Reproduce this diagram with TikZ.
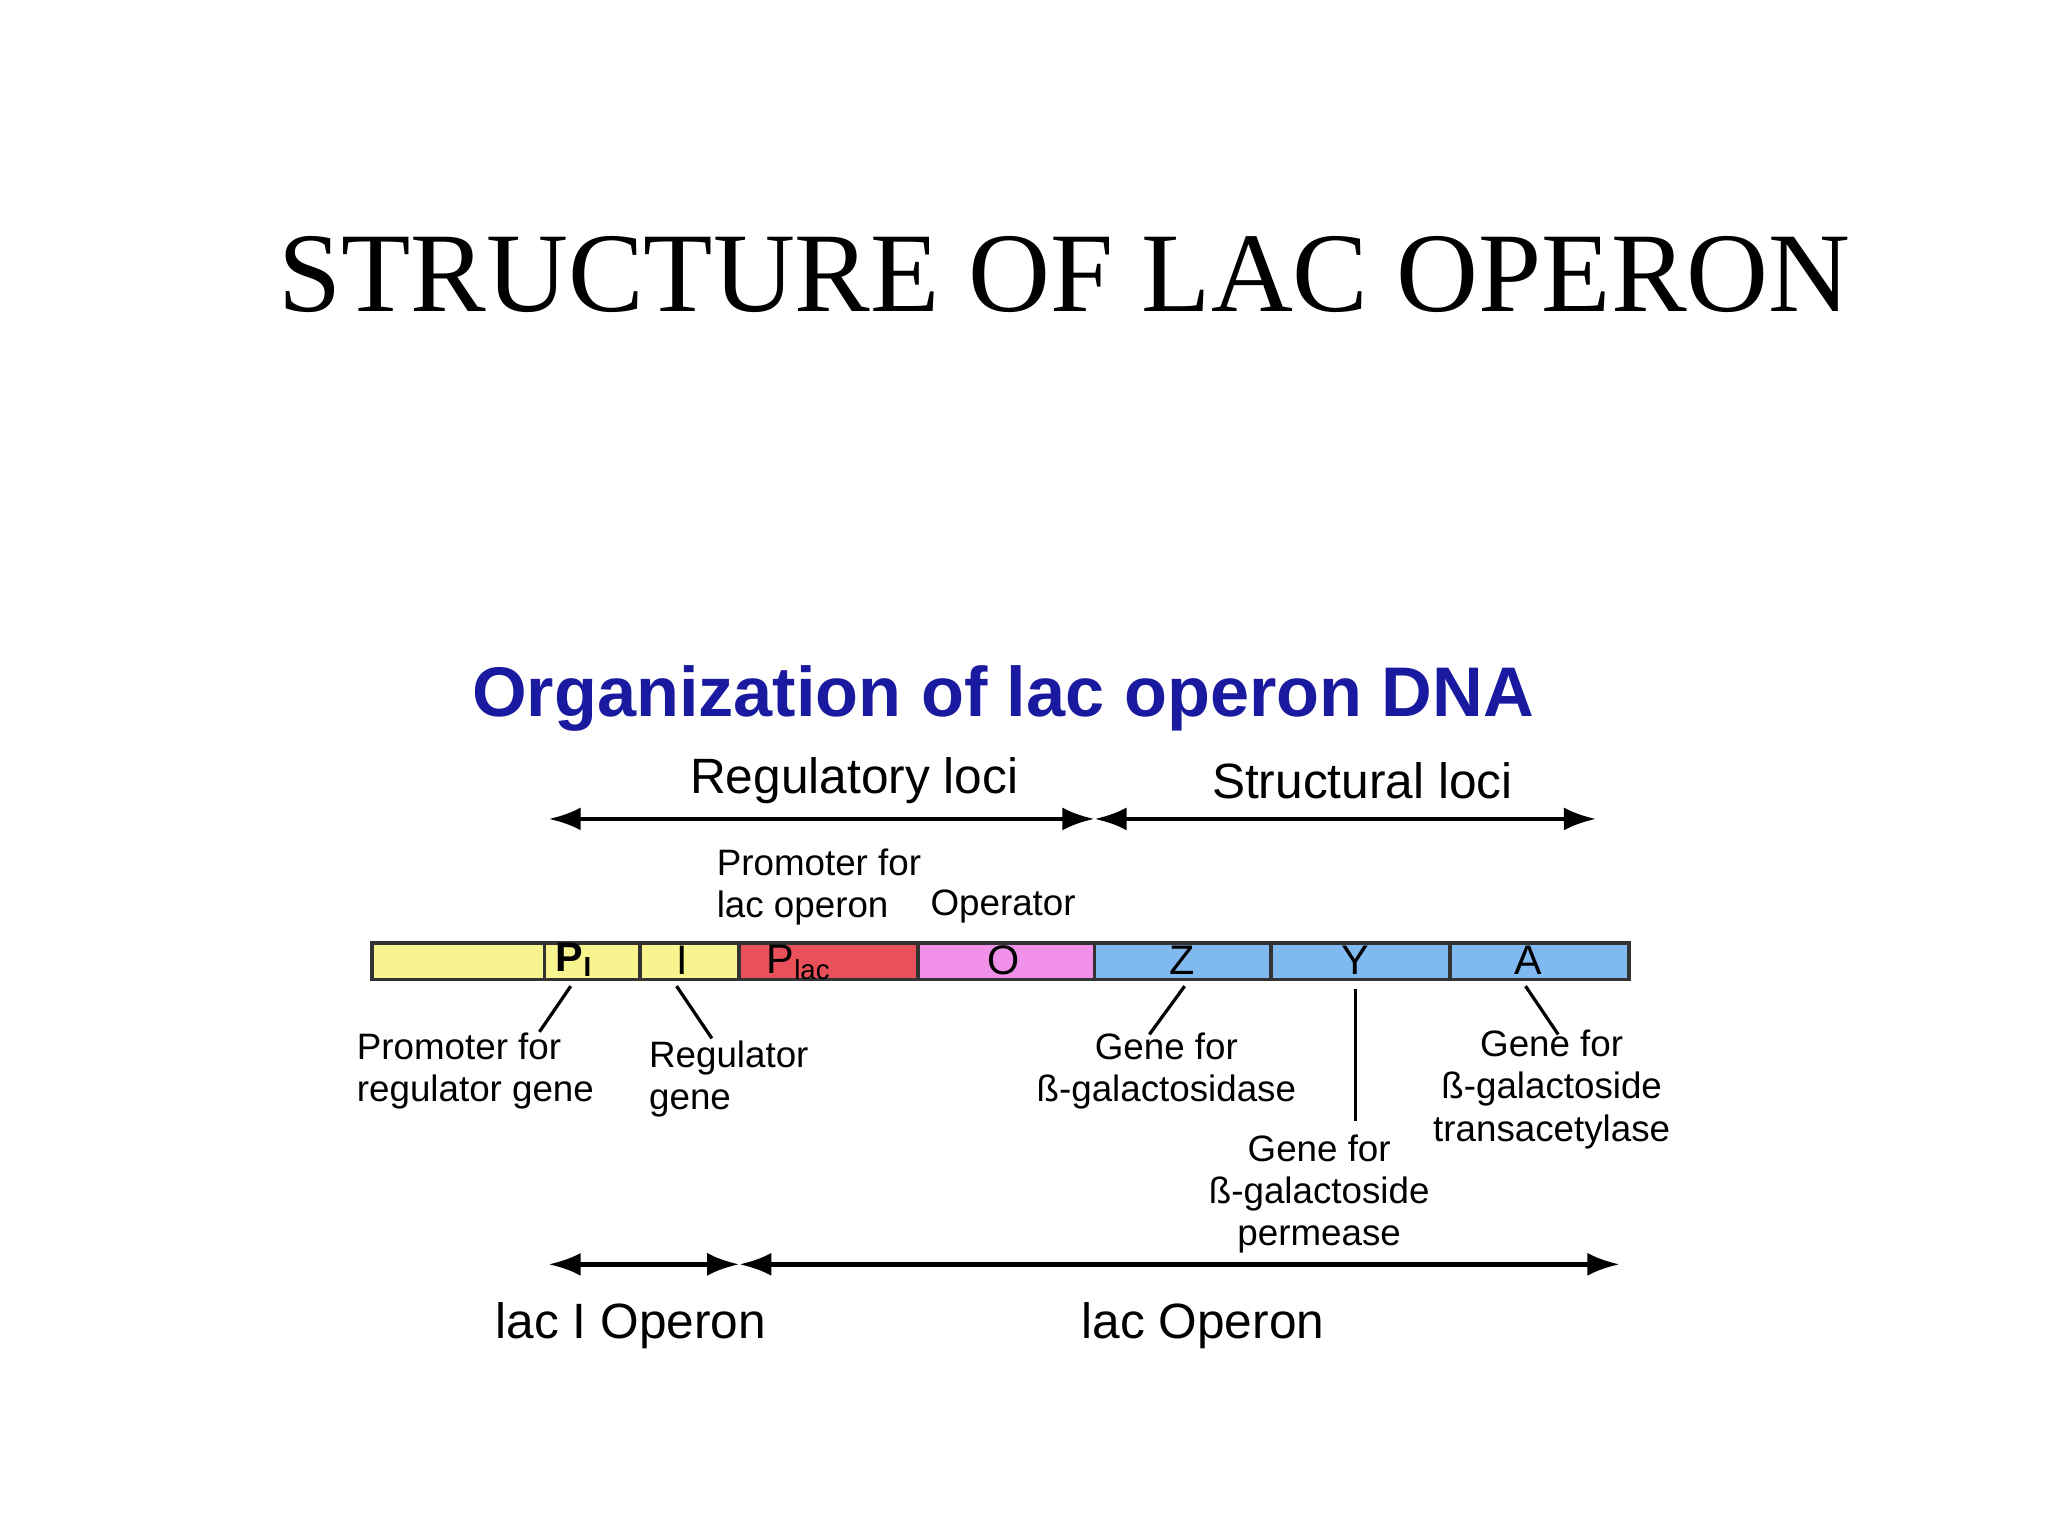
\documentclass[tikz,border=0pt]{standalone}
\usepackage{fontspec}
\setmainfont{Liberation Sans}
\newfontfamily\seriff{Liberation Serif}
\usetikzlibrary{arrows.meta}
\definecolor{ylw}{HTML}{F8F490}
\definecolor{rd}{HTML}{E8505A}
\definecolor{pk}{HTML}{F090E8}
\definecolor{bl}{HTML}{80B8F0}
\definecolor{ttl}{HTML}{1A1AA0}
\begin{document}
\begin{tikzpicture}[x=0.01cm,y=-0.01cm,
 seg/.style={draw=black!80,line width=0.8pt},
 bt/.style={font=\fontsize{9}{9}\selectfont,inner sep=0pt},
 lab/.style={font=\fontsize{8}{9.2}\selectfont,align=left,inner sep=0pt},
 big/.style={font=\fontsize{10.8}{13}\selectfont,inner sep=0pt},
 dbl/.style={line width=1pt,{Latex[length=7pt,width=5pt]}-{Latex[length=7pt,width=5pt]}},
 lead/.style={line width=0.7pt}]
\useasboundingbox (0,0) rectangle (1568,1176);
\node[font=\seriff\fontsize{24.7}{28}\selectfont,inner sep=0pt] (title) at (815,210) {STRUCTURE OF LAC OPERON};
\node[font=\bfseries\fontsize{15.3}{17}\selectfont,text=ttl,inner sep=0pt] (sub) at (768,535) {Organization of lac operon DNA};
\node[big] (rl) at (654,598) {Regulatory loci};
\node[big] (sl) at (1043,598) {Structural loci};
\coordinate (a1) at (420,627); \coordinate (a2) at (838,627); \coordinate (a3) at (1222,627);
\draw[dbl] (a1) -- (a2); \draw[dbl] (a2) -- (a3);
\node[lab] (pl) at (627,679) {Promoter for\\lac operon};
\node[lab] (op) at (768,694) {Operator};
% bar
\draw[seg,fill=ylw] (285,722) rectangle (566,750);
\draw[seg] (417,722) -- (417,750) (490,722) -- (490,750);
\draw[seg,fill=rd] (566,722) rectangle (703,750);
\draw[seg,fill=pk] (703,722) rectangle (838,750);
\draw[seg,fill=bl] (838,722) rectangle (1247,750);
\draw[seg] (973,722) -- (973,750) (1110,722) -- (1110,750);
\node[bt] (pi) at (440,735) {\textbf{P$_\mathbf{I}$}};
\node[bt] (ii) at (522,735) {I};
\node[bt] (plac) at (612,737) {P$_{\mathrm{lac}}$};
\node[bt] (oo) at (768,735) {O};
\node[bt] (zz) at (905,735) {Z};
\node[bt] (yy) at (1038,735) {Y};
\node[bt] (aa) at (1170,735) {A};
% labels
\node[lab] (lpi) at (364,820) {Promoter for\\regulator gene};
\node[lab] (lii) at (558,826) {Regulator\\gene};
\node[lab,align=center] (lz) at (893,820) {Gene for\\ß-galactosidase};
\node[lab,align=center] (ly) at (1010,914) {Gene for\\ß-galactoside\\permease};
\node[lab,align=center] (la) at (1188,834) {Gene for\\ß-galactoside\\transacetylase};
\coordinate (t1) at (437,755); \coordinate (t2) at (518,755); \coordinate (t3) at (907,755);
\coordinate (t4) at (1038,757); \coordinate (t5) at (1168,755);
\draw[lead] (t1) -- (413,790);
\draw[lead] (t2) -- (545,795);
\draw[lead] (t3) -- (880,792);
\draw[lead] (t4) -- (1038,858);
\draw[lead] (t5) -- (1193,792);
\coordinate (b1) at (420,968); \coordinate (b2) at (566,968); \coordinate (b3) at (1240,968);
\draw[dbl] (b1) -- (b2); \draw[dbl] (b2) -- (b3);
\node[big] (lacI) at (483,1015) {lac I Operon};
\node[big] (lac) at (921,1015) {lac Operon};
\end{tikzpicture}
\end{document}
